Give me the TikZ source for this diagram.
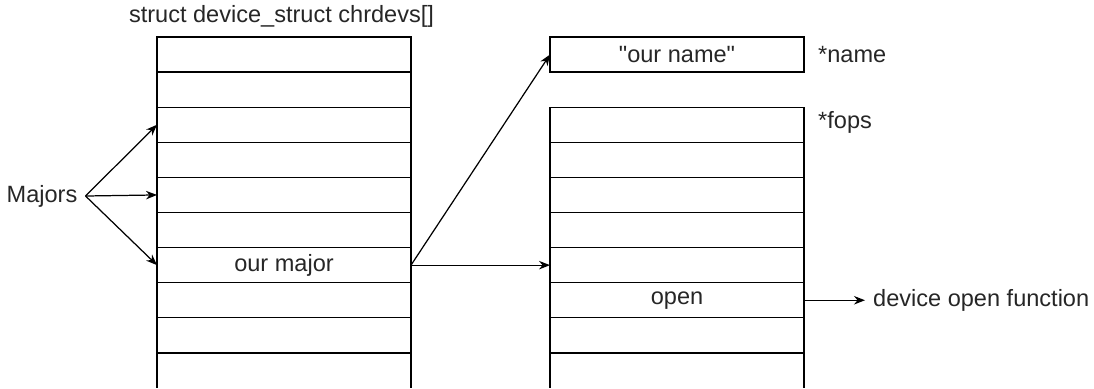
\documentclass[tikz,border=0pt]{standalone}
\usepackage{fontspec}
\setmainfont{Liberation Sans}[Ligatures=TeXOff]
\usetikzlibrary{positioning,arrows.meta}

\begin{document}
\begin{tikzpicture}[
  >={Stealth[length=2.2mm,width=1.7mm]},
  every node/.style={align=center, text=black!85, font=\fontsize{13.4pt}{16pt}\selectfont},
  row/.style={draw, line width=0.7pt, minimum width=5.08cm, minimum height=0.702cm, inner sep=0pt, outer sep=0pt},
  openrow/.style={minimum width=5.08cm, minimum height=0.702cm, inner sep=0pt, outer sep=0pt},
  lbl/.style={inner sep=0.157cm},
  link/.style={->, line width=0.7pt}
]
\useasboundingbox (0,0) rectangle (21.88,-7.76);

% --- chrdevs[] table on the left ---
\node[lbl] (chrdevs) at (5.63, -0.32) {struct device\_struct chrdevs[]};
\node[row] (l0) at (5.68, -1.091) {};
\node[row] (l1) at (5.68, -1.793) {};
\node[row] (l2) at (5.68, -2.495) {};
\node[row] (l3) at (5.68, -3.197) {};
\node[row] (l4) at (5.68, -3.899) {};
\node[row] (l5) at (5.68, -4.601) {};
\node[row] (l6) at (5.68, -5.303) {our major};
\node[row] (l7) at (5.68, -6.005) {};
\node[row] (l8) at (5.68, -6.707) {};
\node[openrow] (l9) at (5.68, -7.409) {};
\draw[line width=0.7pt] (l9.north west) -- (l9.south west);
\draw[line width=0.7pt] (l9.north east) -- (l9.south east);

% --- Majors pointing into the table ---
\node[lbl] (majors) at (0.84, -3.92) {Majors};
\draw[link] (majors.east) -- (l2.west);
\draw[link] (majors.east) -- (l4.west);
\draw[link] (majors.east) -- (l6.west);

% --- name string and fops table on the right ---
\node[row] (name) at (13.54, -1.091) {"our name"};
\node[lbl, right=0.12cm of name] (namelbl) {*name};

\node[row] (f0) at (13.54, -2.495) {};
\node[row] (f1) at (13.54, -3.197) {};
\node[row] (f2) at (13.54, -3.899) {};
\node[row] (f3) at (13.54, -4.601) {};
\node[row] (f4) at (13.54, -5.303) {};
\node[row] (f5) at (13.54, -6.005) {open};
\node[row] (f6) at (13.54, -6.707) {};
\node[openrow] (f7) at (13.54, -7.409) {};
\draw[line width=0.7pt] (f7.north west) -- (f7.south west);
\draw[line width=0.7pt] (f7.north east) -- (f7.south east);
\node[lbl, right=0.12cm of f0, yshift=1.4pt] (fopslbl) {*fops};

% --- links out of our major and open ---
\draw[link] (l6.east) -- (name.west);
\draw[link] (l6.east) -- (f4.west);

\node[lbl, right=1.22cm of f5] (devopen) {device open function};
\draw[link] (f5.east) -- (devopen.west);

\end{tikzpicture}
\end{document}
